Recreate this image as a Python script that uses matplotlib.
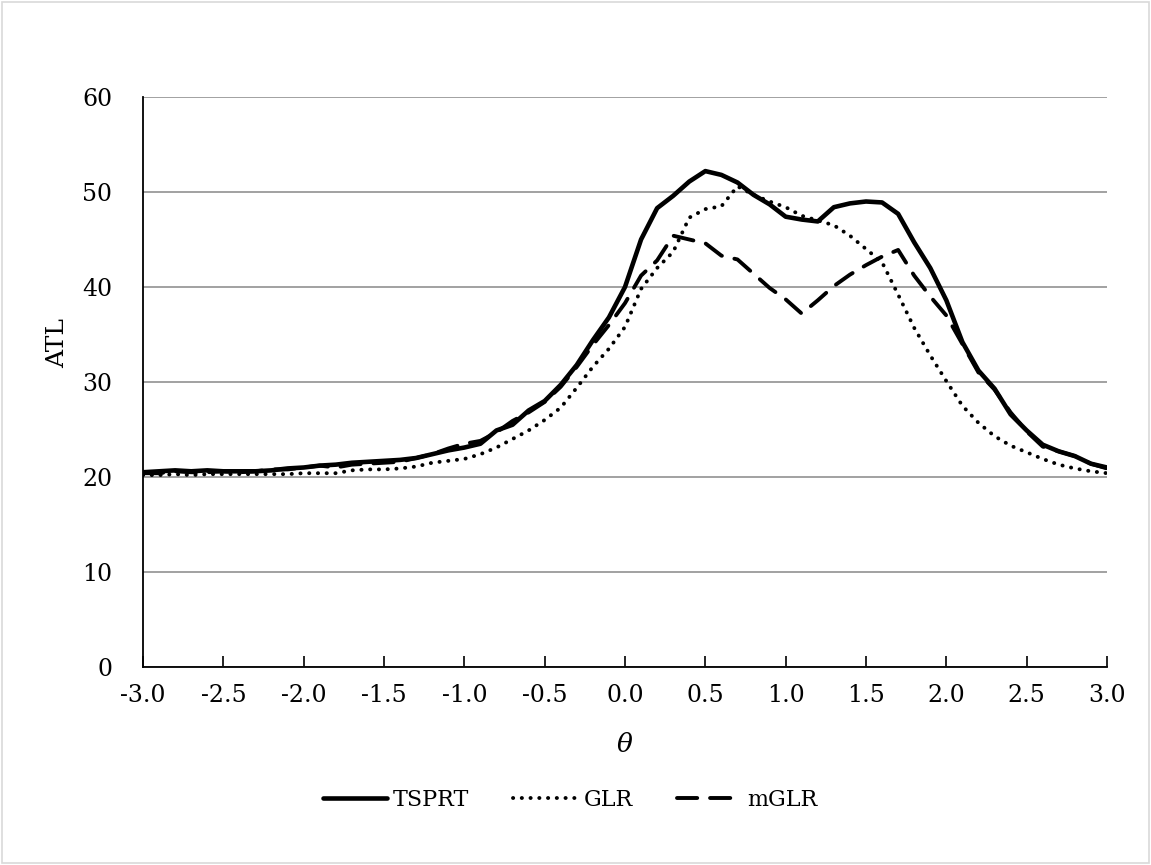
import numpy as np
import matplotlib
matplotlib.use("Agg")
import matplotlib.pyplot as plt
from matplotlib.lines import Line2D
from matplotlib.patches import Rectangle

theta = [round(-3.0 + 0.1 * i, 1) for i in range(61)]

tsprt = [20.5, 20.6, 20.7, 20.6, 20.7, 20.6, 20.6, 20.6, 20.7, 20.9,
         21.0, 21.2, 21.3, 21.5, 21.6, 21.7, 21.8, 22.0, 22.4, 22.8,
         23.1, 23.5, 24.9, 25.5, 27.0, 28.0, 29.7, 31.8, 34.4, 36.8,
         40.0, 45.0, 48.3, 49.6, 51.1, 52.2, 51.8, 51.0, 49.7, 48.7,
         47.4, 47.1, 46.9, 48.4, 48.8, 49.0, 48.9, 47.7, 44.7, 42.0,
         38.6, 34.2, 31.2, 29.3, 26.6, 24.9, 23.4, 22.7, 22.2, 21.4,
         21.0]

glr = [20.2, 20.2, 20.3, 20.2, 20.3, 20.3, 20.3, 20.3, 20.3, 20.3,
       20.4, 20.4, 20.4, 20.7, 20.8, 20.8, 20.9, 21.1, 21.5, 21.7,
       21.9, 22.4, 23.1, 24.0, 24.9, 26.0, 27.3, 29.4, 31.6, 33.5,
       35.8, 39.8, 42.0, 43.7, 47.3, 48.2, 48.5, 50.6, 49.7, 49.0,
       48.4, 47.5, 47.0, 46.5, 45.4, 44.0, 42.6, 39.2, 35.7, 32.8,
       30.1, 27.5, 25.7, 24.3, 23.3, 22.6, 21.9, 21.3, 20.9, 20.6,
       20.4]

mglr = [20.4, 20.4, 20.6, 20.5, 20.5, 20.6, 20.5, 20.6, 20.8, 20.8,
        21.0, 21.2, 21.0, 21.3, 21.4, 21.5, 21.6, 22.0, 22.4, 23.0,
        23.5, 23.8, 24.7, 25.9, 26.8, 27.9, 29.5, 31.6, 33.9, 36.0,
        38.3, 41.2, 42.8, 45.4, 45.0, 44.6, 43.3, 42.9, 41.4, 39.9,
        38.7, 37.2, 38.6, 40.1, 41.3, 42.3, 43.2, 43.9, 41.2, 39.0,
        37.0, 34.0, 31.0, 29.2, 26.8, 24.8, 23.2, 22.7, 22.2, 21.4,
        20.9]

series_names = ["TSPRT", "GLR", "mGLR"]
x_ticks = [-3.0, -2.5, -2.0, -1.5, -1.0, -0.5, 0.0, 0.5, 1.0, 1.5, 2.0, 2.5, 3.0]
y_ticks = [0, 10, 20, 30, 40, 50, 60]

plt.rcParams['font.family'] = ['DejaVu Serif']
FS = 17

fig = plt.figure(figsize=(11.51, 8.65), dpi=100)
ax = fig.add_axes([143 / 1151, 1 - 667 / 865, (1107 - 143) / 1151, (667 - 97) / 865])

fig.patches.append(Rectangle((0.002, 0.002), 0.996, 0.996, transform=fig.transFigure,
                             fill=False, edgecolor='#d9d9d9', linewidth=1.2))

SOLID = dict(color='black', linewidth=3.3, solid_capstyle='round', solid_joinstyle='round')
DOT = dict(color='black', linewidth=2.8, linestyle=(0, (0.05, 2.2)), dash_capstyle='round')
DASH = dict(color='black', linewidth=2.8, linestyle=(0, (5.2, 3.3)), dash_capstyle='round')

ax.plot(theta, tsprt, label=series_names[0], zorder=3, **SOLID)
ax.plot(theta, glr, label=series_names[1], zorder=3, **DOT)
ax.plot(theta, mglr, label=series_names[2], zorder=3, **DASH)

ax.set_xlim(-3.0, 3.0)
ax.set_ylim(0, 60)
ax.set_xticks(x_ticks)
ax.set_xticklabels([f"{v:.1f}" for v in x_ticks], fontsize=FS)
ax.set_yticks(y_ticks)
ax.set_yticklabels([str(v) for v in y_ticks], fontsize=FS)
ax.tick_params(axis='x', direction='in', length=8, width=1.2, pad=12, color='black')
ax.tick_params(axis='y', length=0, pad=22)
ax.yaxis.grid(True, color='#9a9a9a', linewidth=1.3)
ax.set_axisbelow(True)
for s in ['top', 'right']:
    ax.spines[s].set_visible(False)
ax.spines['left'].set_linewidth(1.3)
ax.spines['bottom'].set_linewidth(1.3)

fig.text(58 / 1151, 1 - 343 / 865, "ATL", rotation=90, ha='center', va='center', fontsize=FS + 1)
fig.text(625 / 1151, 1 - 745 / 865, "θ", style='italic', ha='center', va='center', fontsize=FS + 2)

handles = [Line2D([], [], **SOLID), Line2D([], [], **DOT), Line2D([], [], **DASH)]
fig.legend(handles, series_names, loc='center', bbox_to_anchor=(570 / 1151, 1 - 800 / 865),
           ncol=3, frameon=False, fontsize=16, handlelength=2.9, handletextpad=0.25,
           columnspacing=2.0)

fig.savefig("out.png", dpi=100)
